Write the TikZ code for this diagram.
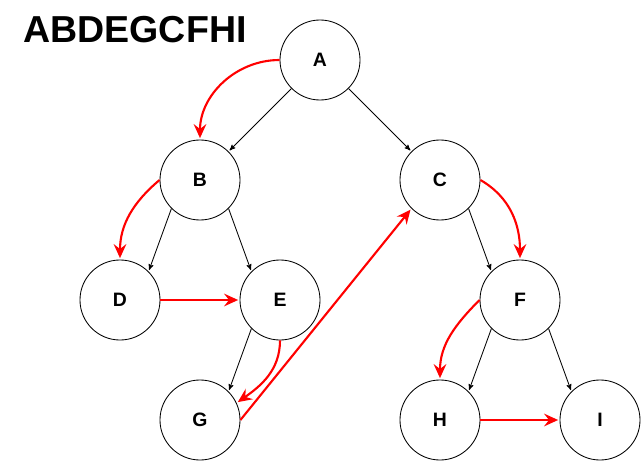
\documentclass[tikz,border=0pt]{standalone}
\usepackage{fontspec}
\setmainfont{Liberation Sans}
\usetikzlibrary{arrows,arrows.meta,automata}

\begin{document}
\begin{tikzpicture}[
	x=0.025cm,
	y=0.025cm,
	->,
	>=stealth',
	shorten >=1pt,
	semithick,
	every state/.style={draw, circle, minimum size=2cm, inner sep=0pt,
		font=\bfseries\fontsize{13.8}{16}\selectfont},
	walk/.style={red, line width=1.5pt, -{Stealth[length=10pt, width=9pt, inset=3.5pt]}}
  ]

  \useasboundingbox (0,0) rectangle (641,463);

  \node[inner sep=0pt, font=\bfseries\fontsize{26.7}{30}\selectfont] (order) at (135,433) {ABDEGCFHI};

  \node[state] (A) at (320,403) {A};
  \node[state] (B) at (200,283) {B};
  \node[state] (C) at (440,283) {C};
  \node[state] (D) at (120,163) {D};
  \node[state] (E) at (280,163) {E};
  \node[state] (F) at (520,163) {F};
  \node[state] (G) at (200,43)  {G};
  \node[state] (H) at (440,43)  {H};
  \node[state] (I) at (600,43)  {I};

  % tree edges
  \path (A.225) edge (B.45)
        (A.315) edge (C.135)
        (B.225) edge (D.45)
        (B.315) edge (E.135)
        (E.225) edge (G.45)
        (C.315) edge (F.135)
        (F.225) edge (H.45)
        (F.315) edge (I.135);

  % preorder walk
  \path (A.west)  edge [walk, out=180, in=90]  (B.north)
        (B.west)  edge [walk, out=220, in=90]  (D.north)
        (D.east)  edge [walk]                  (E.west)
        (E.south) edge [walk, out=270, in=35]  (G.25)
        (G.east)  edge [walk]                  (C.225)
        (C.east)  edge [walk, out=-30, in=90]  (F.north)
        (F.west)  edge [walk, out=225, in=90]  (H.north)
        (H.east)  edge [walk]                  (I.west);

\end{tikzpicture}
\end{document}
